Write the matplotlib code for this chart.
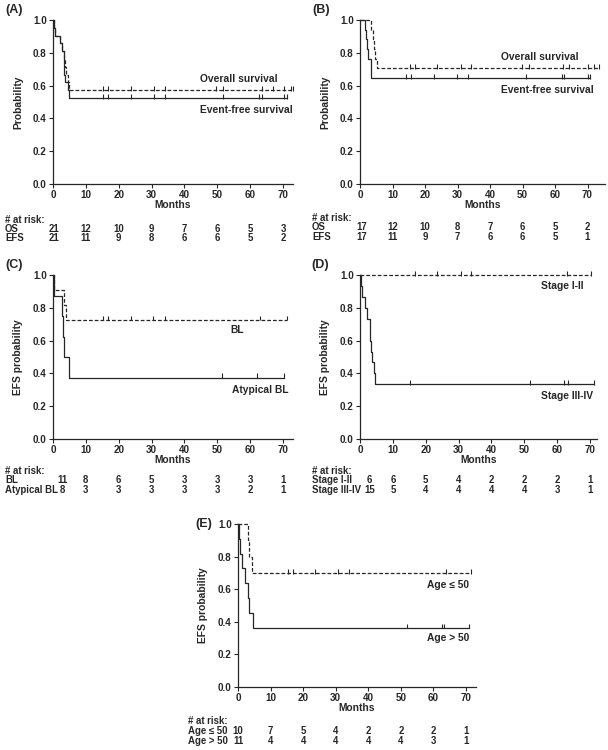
import numpy as np
import matplotlib
matplotlib.use("Agg")
import matplotlib.pyplot as plt
import matplotlib.transforms as mtransforms

plt.rcParams['font.family'] = ['Liberation Sans', 'DejaVu Sans']
plt.rcParams['font.weight'] = 'bold'
plt.rcParams['axes.labelweight'] = 'bold'
INK = '#262626'

W, H = 608, 750

# ---- data ----
# (A) whole cohort
A_os_t = [0.3, 0.6, 2.0, 2.6, 3.2, 3.6, 4.1, 4.5, 4.9]
A_os_s = [0.952, 0.905, 0.857, 0.810, 0.762, 0.714, 0.667, 0.619, 0.571]
A_os_end = 73.0
A_os_cens = [15.2, 16.7, 23.7, 30.7, 34.1, 49.6, 51.7, 63.5, 67.0, 70.3, 72.4]
A_efs_t = [0.3, 0.6, 2.0, 2.6, 3.2, 3.3, 3.4, 3.5, 4.7, 4.8]
A_efs_s = [0.952, 0.905, 0.857, 0.810, 0.762, 0.714, 0.667, 0.619, 0.571, 0.524]
A_efs_end = 71.2
A_efs_cens = [15.2, 16.7, 23.7, 30.7, 34.1, 51.7, 62.8, 63.5, 70.3]
A_risk_os = [21, 12, 10, 9, 7, 6, 5, 3]
A_risk_efs = [21, 11, 9, 8, 6, 6, 5, 2]

# (B)
B_os_t = [3.5, 3.9, 4.2, 4.7, 5.1]
B_os_s = [0.941, 0.882, 0.824, 0.765, 0.706]
B_os_end = 73.5
B_os_cens = [15.4, 16.9, 23.8, 31.1, 34.1, 49.9, 52.1, 62.4, 64.3, 70.2, 72.0]
B_efs_t = [1.6, 1.9, 2.1, 2.4, 3.3, 3.4]
B_efs_s = [0.941, 0.882, 0.824, 0.765, 0.706, 0.647]
B_efs_end = 70.8
B_efs_cens = [14.1, 15.8, 22.8, 29.8, 33.3, 51.0, 62.0, 62.8, 70.0]
B_risk_os = [17, 12, 10, 8, 7, 6, 5, 2]
B_risk_efs = [17, 11, 9, 7, 6, 6, 5, 1]

# (C) BL vs atypical BL
C_bl_t = [0.3, 3.3, 4.0]
C_bl_s = [0.909, 0.818, 0.727]
C_bl_end = 71.3
C_bl_cens = [15.3, 16.8, 23.6, 30.5, 34.0, 63.0]
C_at_t = [0.3, 2.8, 3.1, 3.4, 4.8]
C_at_s = [0.875, 0.750, 0.625, 0.500, 0.375]
C_at_end = 70.3
C_at_cens = [51.5, 62.0]
C_risk_bl = [11, 8, 6, 5, 3, 3, 3, 1]
C_risk_at = [8, 3, 3, 3, 3, 3, 2, 1]

# (D) stage
D_lo_t = []
D_lo_s = []
D_lo_end = 70.4
D_lo_cens = [16.7, 23.5, 30.6, 33.9, 62.9]
D_hi_t = [0.2, 0.5, 1.5, 2.2, 3.0, 3.1, 3.3, 3.5, 4.3, 4.6]
D_hi_s = [0.933, 0.867, 0.800, 0.733, 0.667, 0.600, 0.533, 0.467, 0.400, 0.333]
D_hi_end = 71.2
D_hi_cens = [15.2, 51.6, 62.1, 63.4]
D_risk_lo = [6, 6, 5, 4, 2, 2, 2, 1]
D_risk_hi = [15, 5, 4, 4, 4, 4, 3, 1]

# (E) age
E_yo_t = [3.1, 3.5, 4.3]
E_yo_s = [0.9, 0.8, 0.7]
E_yo_end = 71.5
E_yo_cens = [15.3, 16.8, 23.6, 30.8, 34.2, 63.9]
E_old_t = [0.3, 0.5, 1.2, 2.2, 3.1, 3.3, 4.6]
E_old_s = [0.909, 0.818, 0.727, 0.636, 0.545, 0.455, 0.364]
E_old_end = 71.0
E_old_cens = [52.0, 62.7, 63.3]
E_risk_yo = [10, 7, 5, 4, 2, 2, 2, 1]
E_risk_old = [11, 4, 4, 4, 4, 4, 3, 1]

risk_months = [0, 10, 20, 30, 40, 50, 60, 70]

FS_TXT = 7.4
FS_TAB = 6.9


def km_at(t_ev, s_ev, x):
    idx = np.searchsorted(np.asarray(t_ev, float), np.asarray(x, float), side='right')
    return np.r_[1.0, s_ev][idx]


def draw_curve(ax, t_ev, s_ev, end, cens, ls):
    xs = [0] + list(t_ev) + [end]
    ys = [1.0] + list(s_ev) + [s_ev[-1] if len(s_ev) else 1.0]
    ax.step(xs, ys, where='post', color=INK, lw=0.9, ls=ls, clip_on=False,
            dashes=(3, 1.6) if ls == '--' else (None, None))
    cx = list(cens) + [end]
    cy = km_at(t_ev, s_ev, cx)
    ax.vlines(cx, cy - 0.004, cy + 0.025, color=INK, lw=0.8, clip_on=False)


def px_rect(l, t, r, b):
    return [l / W, 1 - b / H, (r - l) / W, (b - t) / H]


def setup_axes(fig, l, t, b, scale, xmax, ylabel, ylab_px):
    ax = fig.add_axes(px_rect(l, t, l + xmax * scale, b))
    ax.set_xlim(0, xmax)
    ax.set_ylim(0, 1)
    for s in ['top', 'right']:
        ax.spines[s].set_visible(False)
    for s in ['left', 'bottom']:
        ax.spines[s].set_linewidth(0.9)
        ax.spines[s].set_color(INK)
    ax.set_xticks(range(0, 71, 10))
    ax.set_yticks(np.arange(0, 1.01, 0.2))
    ax.set_yticklabels([f"{v:.1f}" for v in np.arange(0, 1.01, 0.2)])
    ax.tick_params(direction='out', length=3, width=0.8, color=INK,
                   labelsize=7.1, labelcolor=INK, pad=1.5)
    ax.set_xlabel('Months', fontsize=FS_TXT, color=INK, labelpad=0)
    ax.set_ylabel(ylabel, fontsize=FS_TXT, color=INK)
    ax.yaxis.set_label_coords(-(l - ylab_px) / (xmax * scale), 0.5)
    return ax


def risk_table(fig, ax, lab_px, y_px, labels, rows, first_off):
    tr = mtransforms.blended_transform_factory(ax.transData, fig.transFigure)
    fig.text(lab_px / W, 1 - y_px[0] / H, '# at risk:', fontsize=FS_TAB,
             color=INK, va='center', ha='left')
    for lab, row, yp in zip(labels, rows, y_px[1:]):
        fig.text(lab_px / W, 1 - yp / H, lab, fontsize=FS_TAB, color=INK,
                 va='center', ha='left')
        for i, (m, v) in enumerate(zip(risk_months, row)):
            x = m + (first_off if i == 0 else 0)
            ax.text(x, 1 - yp / H, str(v), transform=tr, fontsize=FS_TAB,
                    color=INK, va='center', ha='center')


fig = plt.figure(figsize=(W / 100, H / 100), dpi=100)

# (A)
axA = setup_axes(fig, 53, 20, 184, 3.286, 73, 'Probability', 23)
draw_curve(axA, A_os_t, A_os_s, A_os_end, A_os_cens, '--')
draw_curve(axA, A_efs_t, A_efs_s, A_efs_end, A_efs_cens, '-')
axA.text(68.5, 0.64, 'Overall survival', fontsize=FS_TXT, color=INK, ha='right', va='center')
axA.text(73, 0.45, 'Event-free survival', fontsize=FS_TXT, color=INK, ha='right', va='center')
risk_table(fig, axA, 5, [220, 229, 238], ['OS', 'EFS'], [A_risk_os, A_risk_efs], 0.2)
fig.text(5 / W, 1 - 10 / H, '(A)', fontsize=9, color=INK, va='center')

# (B)
axB = setup_axes(fig, 360, 20, 184, 3.25, 75.5, 'Probability', 330)
draw_curve(axB, B_os_t, B_os_s, B_os_end, B_os_cens, '--')
draw_curve(axB, B_efs_t, B_efs_s, B_efs_end, B_efs_cens, '-')
axB.text(67.4, 0.775, 'Overall survival', fontsize=FS_TXT, color=INK, ha='right', va='center')
axB.text(72, 0.573, 'Event-free survival', fontsize=FS_TXT, color=INK, ha='right', va='center')
risk_table(fig, axB, 312, [218, 227, 237], ['OS', 'EFS'], [B_risk_os, B_risk_efs], 0.5)
fig.text(312 / W, 1 - 10 / H, '(B)', fontsize=9, color=INK, va='center')

# (C)
axC = setup_axes(fig, 53, 275, 439, 3.286, 73, 'EFS probability', 23)
draw_curve(axC, C_bl_t, C_bl_s, C_bl_end, C_bl_cens, '--')
draw_curve(axC, C_at_t, C_at_s, C_at_end, C_at_cens, '-')
axC.text(54, 0.665, 'BL', fontsize=FS_TXT, color=INK, ha='left', va='center')
axC.text(54.5, 0.30, 'Atypical BL', fontsize=FS_TXT, color=INK, ha='left', va='center')
risk_table(fig, axC, 5, [471, 480, 490], ['BL', 'Atypical BL'], [C_risk_bl, C_risk_at], 2.8)
fig.text(5 / W, 1 - 265 / H, '(C)', fontsize=9, color=INK, va='center')

# (D)
axD = setup_axes(fig, 360, 275, 439, 3.286, 72, 'EFS probability', 330)
draw_curve(axD, D_lo_t, D_lo_s, D_lo_end, D_lo_cens, '--')
draw_curve(axD, D_hi_t, D_hi_s, D_hi_end, D_hi_cens, '-')
axD.text(55, 0.933, 'Stage I-II', fontsize=FS_TXT, color=INK, ha='left', va='center')
axD.text(55, 0.262, 'Stage III-IV', fontsize=FS_TXT, color=INK, ha='left', va='center')
risk_table(fig, axD, 312, [471, 480, 490], ['Stage I-II', 'Stage III-IV'], [D_risk_lo, D_risk_hi], 2.9)
fig.text(311 / W, 1 - 265 / H, '(D)', fontsize=9, color=INK, va='center')

# (E)
axE = setup_axes(fig, 238, 524, 687, 3.257, 73, 'EFS probability', 208)
draw_curve(axE, E_yo_t, E_yo_s, E_yo_end, E_yo_cens, '--')
draw_curve(axE, E_old_t, E_old_s, E_old_end, E_old_cens, '-')
axE.text(58, 0.626, 'Age \u2264 50', fontsize=FS_TXT, color=INK, ha='left', va='center')
axE.text(58, 0.30, 'Age > 50', fontsize=FS_TXT, color=INK, ha='left', va='center')
risk_table(fig, axE, 188, [721, 731, 741], ['Age \u2264 50', 'Age > 50'], [E_risk_yo, E_risk_old], 0)
fig.text(195 / W, 1 - 524 / H, '(E)', fontsize=9, color=INK, va='center')

fig.savefig('out.png', dpi=100, facecolor='white')
